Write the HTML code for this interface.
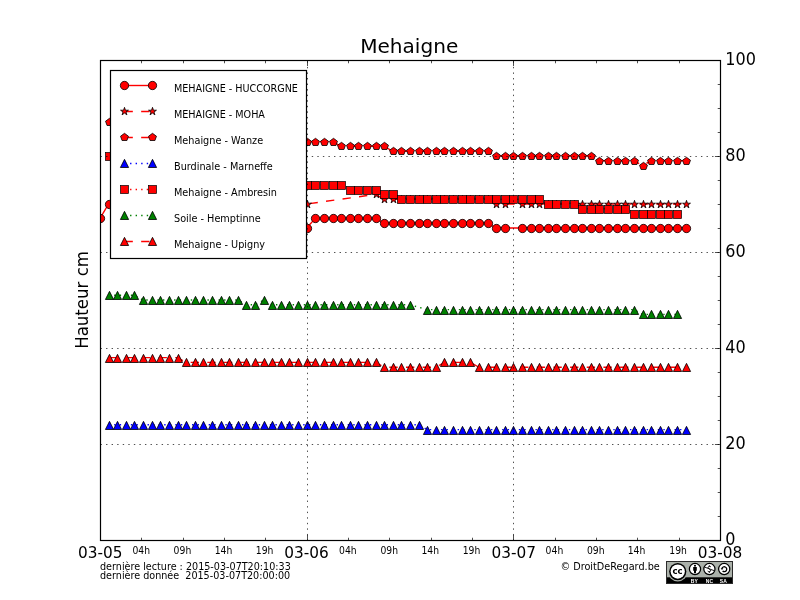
<!DOCTYPE html>
<html lang="fr"><head><meta charset="utf-8"><title>Mehaigne</title>
<style>html,body{margin:0;padding:0;background:#fff;width:800px;height:600px;overflow:hidden}</style></head>
<body>
<svg width="800" height="600" viewBox="0 0 800 600" style="display:block;position:absolute;left:0;top:0" font-family="'DejaVu Sans','Liberation Sans',sans-serif" fill="#000">
<rect width="800" height="600" fill="#fff"/>
<defs><clipPath id="ax"><rect x="100" y="60" width="621" height="481"/></clipPath></defs>
<g clip-path="url(#ax)">
<path d="M100.00 218.40 L108.61 204.00 L117.22 204.00 L125.83 204.00 L134.44 204.00 L143.06 204.00 L151.67 204.00 L160.28 204.00 L168.89 204.00 L177.50 213.60 L186.11 213.60 L194.72 213.60 L203.33 213.60 L211.94 213.60 L220.56 213.60 L229.17 213.60 L237.78 213.60 L246.39 213.60 L255.00 213.60 L263.61 213.60 L272.22 213.60 L280.83 213.60 L289.44 213.60 L298.06 213.60 L306.67 228.00 L315.28 218.40 L323.89 218.40 L332.50 218.40 L341.11 218.40 L349.72 218.40 L358.33 218.40 L366.94 218.40 L375.56 218.40 L384.17 223.20 L392.78 223.20 L401.39 223.20 L410.00 223.20 L418.61 223.20 L427.22 223.20 L435.83 223.20 L444.44 223.20 L453.06 223.20 L461.67 223.20 L470.28 223.20 L478.89 223.20 L487.50 223.20 L496.11 228.00 L504.72 228.00 L521.94 228.00 L530.56 228.00 L539.17 228.00 L547.78 228.00 L556.39 228.00 L565.00 228.00 L573.61 228.00 L582.22 228.00 L590.83 228.00 L599.44 228.00 L608.06 228.00 L616.67 228.00 L625.28 228.00 L633.89 228.00 L642.50 228.00 L651.11 228.00 L659.72 228.00 L668.33 228.00 L676.94 228.00 L685.56 228.00" fill="none" stroke="#ff0000" stroke-width="1.389"/>
<circle cx="100.5" cy="218.5" r="4.17" fill="#ff0000" stroke="#000" stroke-width="0.800"/>
<circle cx="109.5" cy="204.5" r="4.17" fill="#ff0000" stroke="#000" stroke-width="0.800"/>
<circle cx="117.5" cy="204.5" r="4.17" fill="#ff0000" stroke="#000" stroke-width="0.800"/>
<circle cx="126.5" cy="204.5" r="4.17" fill="#ff0000" stroke="#000" stroke-width="0.800"/>
<circle cx="134.5" cy="204.5" r="4.17" fill="#ff0000" stroke="#000" stroke-width="0.800"/>
<circle cx="143.5" cy="204.5" r="4.17" fill="#ff0000" stroke="#000" stroke-width="0.800"/>
<circle cx="152.5" cy="204.5" r="4.17" fill="#ff0000" stroke="#000" stroke-width="0.800"/>
<circle cx="160.5" cy="204.5" r="4.17" fill="#ff0000" stroke="#000" stroke-width="0.800"/>
<circle cx="169.5" cy="204.5" r="4.17" fill="#ff0000" stroke="#000" stroke-width="0.800"/>
<circle cx="178.5" cy="214.5" r="4.17" fill="#ff0000" stroke="#000" stroke-width="0.800"/>
<circle cx="186.5" cy="214.5" r="4.17" fill="#ff0000" stroke="#000" stroke-width="0.800"/>
<circle cx="195.5" cy="214.5" r="4.17" fill="#ff0000" stroke="#000" stroke-width="0.800"/>
<circle cx="203.5" cy="214.5" r="4.17" fill="#ff0000" stroke="#000" stroke-width="0.800"/>
<circle cx="212.5" cy="214.5" r="4.17" fill="#ff0000" stroke="#000" stroke-width="0.800"/>
<circle cx="221.5" cy="214.5" r="4.17" fill="#ff0000" stroke="#000" stroke-width="0.800"/>
<circle cx="229.5" cy="214.5" r="4.17" fill="#ff0000" stroke="#000" stroke-width="0.800"/>
<circle cx="238.5" cy="214.5" r="4.17" fill="#ff0000" stroke="#000" stroke-width="0.800"/>
<circle cx="246.5" cy="214.5" r="4.17" fill="#ff0000" stroke="#000" stroke-width="0.800"/>
<circle cx="255.5" cy="214.5" r="4.17" fill="#ff0000" stroke="#000" stroke-width="0.800"/>
<circle cx="264.5" cy="214.5" r="4.17" fill="#ff0000" stroke="#000" stroke-width="0.800"/>
<circle cx="272.5" cy="214.5" r="4.17" fill="#ff0000" stroke="#000" stroke-width="0.800"/>
<circle cx="281.5" cy="214.5" r="4.17" fill="#ff0000" stroke="#000" stroke-width="0.800"/>
<circle cx="289.5" cy="214.5" r="4.17" fill="#ff0000" stroke="#000" stroke-width="0.800"/>
<circle cx="298.5" cy="214.5" r="4.17" fill="#ff0000" stroke="#000" stroke-width="0.800"/>
<circle cx="307.5" cy="228.5" r="4.17" fill="#ff0000" stroke="#000" stroke-width="0.800"/>
<circle cx="315.5" cy="218.5" r="4.17" fill="#ff0000" stroke="#000" stroke-width="0.800"/>
<circle cx="324.5" cy="218.5" r="4.17" fill="#ff0000" stroke="#000" stroke-width="0.800"/>
<circle cx="333.5" cy="218.5" r="4.17" fill="#ff0000" stroke="#000" stroke-width="0.800"/>
<circle cx="341.5" cy="218.5" r="4.17" fill="#ff0000" stroke="#000" stroke-width="0.800"/>
<circle cx="350.5" cy="218.5" r="4.17" fill="#ff0000" stroke="#000" stroke-width="0.800"/>
<circle cx="358.5" cy="218.5" r="4.17" fill="#ff0000" stroke="#000" stroke-width="0.800"/>
<circle cx="367.5" cy="218.5" r="4.17" fill="#ff0000" stroke="#000" stroke-width="0.800"/>
<circle cx="376.5" cy="218.5" r="4.17" fill="#ff0000" stroke="#000" stroke-width="0.800"/>
<circle cx="384.5" cy="223.5" r="4.17" fill="#ff0000" stroke="#000" stroke-width="0.800"/>
<circle cx="393.5" cy="223.5" r="4.17" fill="#ff0000" stroke="#000" stroke-width="0.800"/>
<circle cx="401.5" cy="223.5" r="4.17" fill="#ff0000" stroke="#000" stroke-width="0.800"/>
<circle cx="410.5" cy="223.5" r="4.17" fill="#ff0000" stroke="#000" stroke-width="0.800"/>
<circle cx="419.5" cy="223.5" r="4.17" fill="#ff0000" stroke="#000" stroke-width="0.800"/>
<circle cx="427.5" cy="223.5" r="4.17" fill="#ff0000" stroke="#000" stroke-width="0.800"/>
<circle cx="436.5" cy="223.5" r="4.17" fill="#ff0000" stroke="#000" stroke-width="0.800"/>
<circle cx="444.5" cy="223.5" r="4.17" fill="#ff0000" stroke="#000" stroke-width="0.800"/>
<circle cx="453.5" cy="223.5" r="4.17" fill="#ff0000" stroke="#000" stroke-width="0.800"/>
<circle cx="462.5" cy="223.5" r="4.17" fill="#ff0000" stroke="#000" stroke-width="0.800"/>
<circle cx="470.5" cy="223.5" r="4.17" fill="#ff0000" stroke="#000" stroke-width="0.800"/>
<circle cx="479.5" cy="223.5" r="4.17" fill="#ff0000" stroke="#000" stroke-width="0.800"/>
<circle cx="488.5" cy="223.5" r="4.17" fill="#ff0000" stroke="#000" stroke-width="0.800"/>
<circle cx="496.5" cy="228.5" r="4.17" fill="#ff0000" stroke="#000" stroke-width="0.800"/>
<circle cx="505.5" cy="228.5" r="4.17" fill="#ff0000" stroke="#000" stroke-width="0.800"/>
<circle cx="522.5" cy="228.5" r="4.17" fill="#ff0000" stroke="#000" stroke-width="0.800"/>
<circle cx="531.5" cy="228.5" r="4.17" fill="#ff0000" stroke="#000" stroke-width="0.800"/>
<circle cx="539.5" cy="228.5" r="4.17" fill="#ff0000" stroke="#000" stroke-width="0.800"/>
<circle cx="548.5" cy="228.5" r="4.17" fill="#ff0000" stroke="#000" stroke-width="0.800"/>
<circle cx="556.5" cy="228.5" r="4.17" fill="#ff0000" stroke="#000" stroke-width="0.800"/>
<circle cx="565.5" cy="228.5" r="4.17" fill="#ff0000" stroke="#000" stroke-width="0.800"/>
<circle cx="574.5" cy="228.5" r="4.17" fill="#ff0000" stroke="#000" stroke-width="0.800"/>
<circle cx="582.5" cy="228.5" r="4.17" fill="#ff0000" stroke="#000" stroke-width="0.800"/>
<circle cx="591.5" cy="228.5" r="4.17" fill="#ff0000" stroke="#000" stroke-width="0.800"/>
<circle cx="599.5" cy="228.5" r="4.17" fill="#ff0000" stroke="#000" stroke-width="0.800"/>
<circle cx="608.5" cy="228.5" r="4.17" fill="#ff0000" stroke="#000" stroke-width="0.800"/>
<circle cx="617.5" cy="228.5" r="4.17" fill="#ff0000" stroke="#000" stroke-width="0.800"/>
<circle cx="625.5" cy="228.5" r="4.17" fill="#ff0000" stroke="#000" stroke-width="0.800"/>
<circle cx="634.5" cy="228.5" r="4.17" fill="#ff0000" stroke="#000" stroke-width="0.800"/>
<circle cx="643.5" cy="228.5" r="4.17" fill="#ff0000" stroke="#000" stroke-width="0.800"/>
<circle cx="651.5" cy="228.5" r="4.17" fill="#ff0000" stroke="#000" stroke-width="0.800"/>
<circle cx="660.5" cy="228.5" r="4.17" fill="#ff0000" stroke="#000" stroke-width="0.800"/>
<circle cx="668.5" cy="228.5" r="4.17" fill="#ff0000" stroke="#000" stroke-width="0.800"/>
<circle cx="677.5" cy="228.5" r="4.17" fill="#ff0000" stroke="#000" stroke-width="0.800"/>
<circle cx="686.5" cy="228.5" r="4.17" fill="#ff0000" stroke="#000" stroke-width="0.800"/>
<path d="M306.67 204.00 L375.56 194.40 L384.17 199.20 L392.78 199.20 L401.39 199.20 L410.00 199.20 L418.61 199.20 L427.22 199.20 L435.83 199.20 L444.44 199.20 L453.06 199.20 L461.67 199.20 L470.28 199.20 L478.89 199.20 L487.50 199.20 L496.11 204.00 L504.72 204.00 L521.94 204.00 L530.56 204.00 L539.17 204.00 L547.78 204.00 L556.39 204.00 L565.00 204.00 L573.61 204.00 L582.22 204.00 L590.83 204.00 L599.44 204.00 L608.06 204.00 L616.67 204.00 L625.28 204.00 L633.89 204.00 L642.50 204.00 L651.11 204.00 L659.72 204.00 L668.33 204.00 L676.94 204.00 L685.56 204.00" fill="none" stroke="#ff0000" stroke-width="1.389" stroke-dasharray="8.33 8.33" stroke-dashoffset="-2.90"/>
<polygon points="307.50,200.33 308.44,203.21 311.46,203.21 309.01,204.99 309.95,207.87 307.50,206.09 305.05,207.87 305.99,204.99 303.54,203.21 306.56,203.21" fill="#ff0000" stroke="#000" stroke-width="0.800"/>
<polygon points="376.50,190.33 377.44,193.21 380.46,193.21 378.01,194.99 378.95,197.87 376.50,196.09 374.05,197.87 374.99,194.99 372.54,193.21 375.56,193.21" fill="#ff0000" stroke="#000" stroke-width="0.800"/>
<polygon points="384.50,195.33 385.44,198.21 388.46,198.21 386.01,199.99 386.95,202.87 384.50,201.09 382.05,202.87 382.99,199.99 380.54,198.21 383.56,198.21" fill="#ff0000" stroke="#000" stroke-width="0.800"/>
<polygon points="393.50,195.33 394.44,198.21 397.46,198.21 395.01,199.99 395.95,202.87 393.50,201.09 391.05,202.87 391.99,199.99 389.54,198.21 392.56,198.21" fill="#ff0000" stroke="#000" stroke-width="0.800"/>
<polygon points="401.50,195.33 402.44,198.21 405.46,198.21 403.01,199.99 403.95,202.87 401.50,201.09 399.05,202.87 399.99,199.99 397.54,198.21 400.56,198.21" fill="#ff0000" stroke="#000" stroke-width="0.800"/>
<polygon points="410.50,195.33 411.44,198.21 414.46,198.21 412.01,199.99 412.95,202.87 410.50,201.09 408.05,202.87 408.99,199.99 406.54,198.21 409.56,198.21" fill="#ff0000" stroke="#000" stroke-width="0.800"/>
<polygon points="419.50,195.33 420.44,198.21 423.46,198.21 421.01,199.99 421.95,202.87 419.50,201.09 417.05,202.87 417.99,199.99 415.54,198.21 418.56,198.21" fill="#ff0000" stroke="#000" stroke-width="0.800"/>
<polygon points="427.50,195.33 428.44,198.21 431.46,198.21 429.01,199.99 429.95,202.87 427.50,201.09 425.05,202.87 425.99,199.99 423.54,198.21 426.56,198.21" fill="#ff0000" stroke="#000" stroke-width="0.800"/>
<polygon points="436.50,195.33 437.44,198.21 440.46,198.21 438.01,199.99 438.95,202.87 436.50,201.09 434.05,202.87 434.99,199.99 432.54,198.21 435.56,198.21" fill="#ff0000" stroke="#000" stroke-width="0.800"/>
<polygon points="444.50,195.33 445.44,198.21 448.46,198.21 446.01,199.99 446.95,202.87 444.50,201.09 442.05,202.87 442.99,199.99 440.54,198.21 443.56,198.21" fill="#ff0000" stroke="#000" stroke-width="0.800"/>
<polygon points="453.50,195.33 454.44,198.21 457.46,198.21 455.01,199.99 455.95,202.87 453.50,201.09 451.05,202.87 451.99,199.99 449.54,198.21 452.56,198.21" fill="#ff0000" stroke="#000" stroke-width="0.800"/>
<polygon points="462.50,195.33 463.44,198.21 466.46,198.21 464.01,199.99 464.95,202.87 462.50,201.09 460.05,202.87 460.99,199.99 458.54,198.21 461.56,198.21" fill="#ff0000" stroke="#000" stroke-width="0.800"/>
<polygon points="470.50,195.33 471.44,198.21 474.46,198.21 472.01,199.99 472.95,202.87 470.50,201.09 468.05,202.87 468.99,199.99 466.54,198.21 469.56,198.21" fill="#ff0000" stroke="#000" stroke-width="0.800"/>
<polygon points="479.50,195.33 480.44,198.21 483.46,198.21 481.01,199.99 481.95,202.87 479.50,201.09 477.05,202.87 477.99,199.99 475.54,198.21 478.56,198.21" fill="#ff0000" stroke="#000" stroke-width="0.800"/>
<polygon points="488.50,195.33 489.44,198.21 492.46,198.21 490.01,199.99 490.95,202.87 488.50,201.09 486.05,202.87 486.99,199.99 484.54,198.21 487.56,198.21" fill="#ff0000" stroke="#000" stroke-width="0.800"/>
<polygon points="496.50,200.33 497.44,203.21 500.46,203.21 498.01,204.99 498.95,207.87 496.50,206.09 494.05,207.87 494.99,204.99 492.54,203.21 495.56,203.21" fill="#ff0000" stroke="#000" stroke-width="0.800"/>
<polygon points="505.50,200.33 506.44,203.21 509.46,203.21 507.01,204.99 507.95,207.87 505.50,206.09 503.05,207.87 503.99,204.99 501.54,203.21 504.56,203.21" fill="#ff0000" stroke="#000" stroke-width="0.800"/>
<polygon points="522.50,200.33 523.44,203.21 526.46,203.21 524.01,204.99 524.95,207.87 522.50,206.09 520.05,207.87 520.99,204.99 518.54,203.21 521.56,203.21" fill="#ff0000" stroke="#000" stroke-width="0.800"/>
<polygon points="531.50,200.33 532.44,203.21 535.46,203.21 533.01,204.99 533.95,207.87 531.50,206.09 529.05,207.87 529.99,204.99 527.54,203.21 530.56,203.21" fill="#ff0000" stroke="#000" stroke-width="0.800"/>
<polygon points="539.50,200.33 540.44,203.21 543.46,203.21 541.01,204.99 541.95,207.87 539.50,206.09 537.05,207.87 537.99,204.99 535.54,203.21 538.56,203.21" fill="#ff0000" stroke="#000" stroke-width="0.800"/>
<polygon points="548.50,200.33 549.44,203.21 552.46,203.21 550.01,204.99 550.95,207.87 548.50,206.09 546.05,207.87 546.99,204.99 544.54,203.21 547.56,203.21" fill="#ff0000" stroke="#000" stroke-width="0.800"/>
<polygon points="556.50,200.33 557.44,203.21 560.46,203.21 558.01,204.99 558.95,207.87 556.50,206.09 554.05,207.87 554.99,204.99 552.54,203.21 555.56,203.21" fill="#ff0000" stroke="#000" stroke-width="0.800"/>
<polygon points="565.50,200.33 566.44,203.21 569.46,203.21 567.01,204.99 567.95,207.87 565.50,206.09 563.05,207.87 563.99,204.99 561.54,203.21 564.56,203.21" fill="#ff0000" stroke="#000" stroke-width="0.800"/>
<polygon points="574.50,200.33 575.44,203.21 578.46,203.21 576.01,204.99 576.95,207.87 574.50,206.09 572.05,207.87 572.99,204.99 570.54,203.21 573.56,203.21" fill="#ff0000" stroke="#000" stroke-width="0.800"/>
<polygon points="582.50,200.33 583.44,203.21 586.46,203.21 584.01,204.99 584.95,207.87 582.50,206.09 580.05,207.87 580.99,204.99 578.54,203.21 581.56,203.21" fill="#ff0000" stroke="#000" stroke-width="0.800"/>
<polygon points="591.50,200.33 592.44,203.21 595.46,203.21 593.01,204.99 593.95,207.87 591.50,206.09 589.05,207.87 589.99,204.99 587.54,203.21 590.56,203.21" fill="#ff0000" stroke="#000" stroke-width="0.800"/>
<polygon points="599.50,200.33 600.44,203.21 603.46,203.21 601.01,204.99 601.95,207.87 599.50,206.09 597.05,207.87 597.99,204.99 595.54,203.21 598.56,203.21" fill="#ff0000" stroke="#000" stroke-width="0.800"/>
<polygon points="608.50,200.33 609.44,203.21 612.46,203.21 610.01,204.99 610.95,207.87 608.50,206.09 606.05,207.87 606.99,204.99 604.54,203.21 607.56,203.21" fill="#ff0000" stroke="#000" stroke-width="0.800"/>
<polygon points="617.50,200.33 618.44,203.21 621.46,203.21 619.01,204.99 619.95,207.87 617.50,206.09 615.05,207.87 615.99,204.99 613.54,203.21 616.56,203.21" fill="#ff0000" stroke="#000" stroke-width="0.800"/>
<polygon points="625.50,200.33 626.44,203.21 629.46,203.21 627.01,204.99 627.95,207.87 625.50,206.09 623.05,207.87 623.99,204.99 621.54,203.21 624.56,203.21" fill="#ff0000" stroke="#000" stroke-width="0.800"/>
<polygon points="634.50,200.33 635.44,203.21 638.46,203.21 636.01,204.99 636.95,207.87 634.50,206.09 632.05,207.87 632.99,204.99 630.54,203.21 633.56,203.21" fill="#ff0000" stroke="#000" stroke-width="0.800"/>
<polygon points="643.50,200.33 644.44,203.21 647.46,203.21 645.01,204.99 645.95,207.87 643.50,206.09 641.05,207.87 641.99,204.99 639.54,203.21 642.56,203.21" fill="#ff0000" stroke="#000" stroke-width="0.800"/>
<polygon points="651.50,200.33 652.44,203.21 655.46,203.21 653.01,204.99 653.95,207.87 651.50,206.09 649.05,207.87 649.99,204.99 647.54,203.21 650.56,203.21" fill="#ff0000" stroke="#000" stroke-width="0.800"/>
<polygon points="660.50,200.33 661.44,203.21 664.46,203.21 662.01,204.99 662.95,207.87 660.50,206.09 658.05,207.87 658.99,204.99 656.54,203.21 659.56,203.21" fill="#ff0000" stroke="#000" stroke-width="0.800"/>
<polygon points="668.50,200.33 669.44,203.21 672.46,203.21 670.01,204.99 670.95,207.87 668.50,206.09 666.05,207.87 666.99,204.99 664.54,203.21 667.56,203.21" fill="#ff0000" stroke="#000" stroke-width="0.800"/>
<polygon points="677.50,200.33 678.44,203.21 681.46,203.21 679.01,204.99 679.95,207.87 677.50,206.09 675.05,207.87 675.99,204.99 673.54,203.21 676.56,203.21" fill="#ff0000" stroke="#000" stroke-width="0.800"/>
<polygon points="686.50,200.33 687.44,203.21 690.46,203.21 688.01,204.99 688.95,207.87 686.50,206.09 684.05,207.87 684.99,204.99 682.54,203.21 685.56,203.21" fill="#ff0000" stroke="#000" stroke-width="0.800"/>
<path d="M108.61 122.40 L117.22 122.40 L125.83 122.40 L134.44 122.40 L143.06 122.40 L151.67 122.40 L160.28 122.40 L168.89 122.40 L177.50 122.40 L186.11 122.40 L194.72 122.40 L203.33 122.40 L211.94 122.40 L220.56 122.40 L229.17 122.40 L237.78 122.40 L246.39 122.40 L255.00 122.40 L263.61 122.40 L272.22 122.40 L280.83 122.40 L289.44 122.40 L298.06 122.40 L306.67 141.60 L315.28 141.60 L323.89 141.60 L332.50 141.60 L341.11 146.40 L349.72 146.40 L358.33 146.40 L366.94 146.40 L375.56 146.40 L384.17 146.40 L392.78 151.20 L401.39 151.20 L410.00 151.20 L418.61 151.20 L427.22 151.20 L435.83 151.20 L444.44 151.20 L453.06 151.20 L461.67 151.20 L470.28 151.20 L478.89 151.20 L487.50 151.20 L496.11 156.00 L504.72 156.00 L513.33 156.00 L521.94 156.00 L530.56 156.00 L539.17 156.00 L547.78 156.00 L556.39 156.00 L565.00 156.00 L573.61 156.00 L582.22 156.00 L590.83 156.00 L599.44 160.80 L608.06 160.80 L616.67 160.80 L625.28 160.80 L633.89 160.80 L642.50 165.60 L651.11 160.80 L659.72 160.80 L668.33 160.80 L676.94 160.80 L685.56 160.80" fill="none" stroke="#ff0000" stroke-width="1.389" stroke-dasharray="8.33 8.33" stroke-dashoffset="9.40"/>
<polygon points="109.50,118.33 113.46,121.21 111.95,125.50 107.05,125.50 105.54,121.21" fill="#ff0000" stroke="#000" stroke-width="0.800"/>
<polygon points="117.50,118.33 121.46,121.21 119.95,125.50 115.05,125.50 113.54,121.21" fill="#ff0000" stroke="#000" stroke-width="0.800"/>
<polygon points="126.50,118.33 130.46,121.21 128.95,125.50 124.05,125.50 122.54,121.21" fill="#ff0000" stroke="#000" stroke-width="0.800"/>
<polygon points="134.50,118.33 138.46,121.21 136.95,125.50 132.05,125.50 130.54,121.21" fill="#ff0000" stroke="#000" stroke-width="0.800"/>
<polygon points="143.50,118.33 147.46,121.21 145.95,125.50 141.05,125.50 139.54,121.21" fill="#ff0000" stroke="#000" stroke-width="0.800"/>
<polygon points="152.50,118.33 156.46,121.21 154.95,125.50 150.05,125.50 148.54,121.21" fill="#ff0000" stroke="#000" stroke-width="0.800"/>
<polygon points="160.50,118.33 164.46,121.21 162.95,125.50 158.05,125.50 156.54,121.21" fill="#ff0000" stroke="#000" stroke-width="0.800"/>
<polygon points="169.50,118.33 173.46,121.21 171.95,125.50 167.05,125.50 165.54,121.21" fill="#ff0000" stroke="#000" stroke-width="0.800"/>
<polygon points="178.50,118.33 182.46,121.21 180.95,125.50 176.05,125.50 174.54,121.21" fill="#ff0000" stroke="#000" stroke-width="0.800"/>
<polygon points="186.50,118.33 190.46,121.21 188.95,125.50 184.05,125.50 182.54,121.21" fill="#ff0000" stroke="#000" stroke-width="0.800"/>
<polygon points="195.50,118.33 199.46,121.21 197.95,125.50 193.05,125.50 191.54,121.21" fill="#ff0000" stroke="#000" stroke-width="0.800"/>
<polygon points="203.50,118.33 207.46,121.21 205.95,125.50 201.05,125.50 199.54,121.21" fill="#ff0000" stroke="#000" stroke-width="0.800"/>
<polygon points="212.50,118.33 216.46,121.21 214.95,125.50 210.05,125.50 208.54,121.21" fill="#ff0000" stroke="#000" stroke-width="0.800"/>
<polygon points="221.50,118.33 225.46,121.21 223.95,125.50 219.05,125.50 217.54,121.21" fill="#ff0000" stroke="#000" stroke-width="0.800"/>
<polygon points="229.50,118.33 233.46,121.21 231.95,125.50 227.05,125.50 225.54,121.21" fill="#ff0000" stroke="#000" stroke-width="0.800"/>
<polygon points="238.50,118.33 242.46,121.21 240.95,125.50 236.05,125.50 234.54,121.21" fill="#ff0000" stroke="#000" stroke-width="0.800"/>
<polygon points="246.50,118.33 250.46,121.21 248.95,125.50 244.05,125.50 242.54,121.21" fill="#ff0000" stroke="#000" stroke-width="0.800"/>
<polygon points="255.50,118.33 259.46,121.21 257.95,125.50 253.05,125.50 251.54,121.21" fill="#ff0000" stroke="#000" stroke-width="0.800"/>
<polygon points="264.50,118.33 268.46,121.21 266.95,125.50 262.05,125.50 260.54,121.21" fill="#ff0000" stroke="#000" stroke-width="0.800"/>
<polygon points="272.50,118.33 276.46,121.21 274.95,125.50 270.05,125.50 268.54,121.21" fill="#ff0000" stroke="#000" stroke-width="0.800"/>
<polygon points="281.50,118.33 285.46,121.21 283.95,125.50 279.05,125.50 277.54,121.21" fill="#ff0000" stroke="#000" stroke-width="0.800"/>
<polygon points="289.50,118.33 293.46,121.21 291.95,125.50 287.05,125.50 285.54,121.21" fill="#ff0000" stroke="#000" stroke-width="0.800"/>
<polygon points="298.50,118.33 302.46,121.21 300.95,125.50 296.05,125.50 294.54,121.21" fill="#ff0000" stroke="#000" stroke-width="0.800"/>
<polygon points="307.50,138.33 311.46,141.21 309.95,145.50 305.05,145.50 303.54,141.21" fill="#ff0000" stroke="#000" stroke-width="0.800"/>
<polygon points="315.50,138.33 319.46,141.21 317.95,145.50 313.05,145.50 311.54,141.21" fill="#ff0000" stroke="#000" stroke-width="0.800"/>
<polygon points="324.50,138.33 328.46,141.21 326.95,145.50 322.05,145.50 320.54,141.21" fill="#ff0000" stroke="#000" stroke-width="0.800"/>
<polygon points="333.50,138.33 337.46,141.21 335.95,145.50 331.05,145.50 329.54,141.21" fill="#ff0000" stroke="#000" stroke-width="0.800"/>
<polygon points="341.50,142.33 345.46,145.21 343.95,149.50 339.05,149.50 337.54,145.21" fill="#ff0000" stroke="#000" stroke-width="0.800"/>
<polygon points="350.50,142.33 354.46,145.21 352.95,149.50 348.05,149.50 346.54,145.21" fill="#ff0000" stroke="#000" stroke-width="0.800"/>
<polygon points="358.50,142.33 362.46,145.21 360.95,149.50 356.05,149.50 354.54,145.21" fill="#ff0000" stroke="#000" stroke-width="0.800"/>
<polygon points="367.50,142.33 371.46,145.21 369.95,149.50 365.05,149.50 363.54,145.21" fill="#ff0000" stroke="#000" stroke-width="0.800"/>
<polygon points="376.50,142.33 380.46,145.21 378.95,149.50 374.05,149.50 372.54,145.21" fill="#ff0000" stroke="#000" stroke-width="0.800"/>
<polygon points="384.50,142.33 388.46,145.21 386.95,149.50 382.05,149.50 380.54,145.21" fill="#ff0000" stroke="#000" stroke-width="0.800"/>
<polygon points="393.50,147.33 397.46,150.21 395.95,154.50 391.05,154.50 389.54,150.21" fill="#ff0000" stroke="#000" stroke-width="0.800"/>
<polygon points="401.50,147.33 405.46,150.21 403.95,154.50 399.05,154.50 397.54,150.21" fill="#ff0000" stroke="#000" stroke-width="0.800"/>
<polygon points="410.50,147.33 414.46,150.21 412.95,154.50 408.05,154.50 406.54,150.21" fill="#ff0000" stroke="#000" stroke-width="0.800"/>
<polygon points="419.50,147.33 423.46,150.21 421.95,154.50 417.05,154.50 415.54,150.21" fill="#ff0000" stroke="#000" stroke-width="0.800"/>
<polygon points="427.50,147.33 431.46,150.21 429.95,154.50 425.05,154.50 423.54,150.21" fill="#ff0000" stroke="#000" stroke-width="0.800"/>
<polygon points="436.50,147.33 440.46,150.21 438.95,154.50 434.05,154.50 432.54,150.21" fill="#ff0000" stroke="#000" stroke-width="0.800"/>
<polygon points="444.50,147.33 448.46,150.21 446.95,154.50 442.05,154.50 440.54,150.21" fill="#ff0000" stroke="#000" stroke-width="0.800"/>
<polygon points="453.50,147.33 457.46,150.21 455.95,154.50 451.05,154.50 449.54,150.21" fill="#ff0000" stroke="#000" stroke-width="0.800"/>
<polygon points="462.50,147.33 466.46,150.21 464.95,154.50 460.05,154.50 458.54,150.21" fill="#ff0000" stroke="#000" stroke-width="0.800"/>
<polygon points="470.50,147.33 474.46,150.21 472.95,154.50 468.05,154.50 466.54,150.21" fill="#ff0000" stroke="#000" stroke-width="0.800"/>
<polygon points="479.50,147.33 483.46,150.21 481.95,154.50 477.05,154.50 475.54,150.21" fill="#ff0000" stroke="#000" stroke-width="0.800"/>
<polygon points="488.50,147.33 492.46,150.21 490.95,154.50 486.05,154.50 484.54,150.21" fill="#ff0000" stroke="#000" stroke-width="0.800"/>
<polygon points="496.50,152.33 500.46,155.21 498.95,159.50 494.05,159.50 492.54,155.21" fill="#ff0000" stroke="#000" stroke-width="0.800"/>
<polygon points="505.50,152.33 509.46,155.21 507.95,159.50 503.05,159.50 501.54,155.21" fill="#ff0000" stroke="#000" stroke-width="0.800"/>
<polygon points="513.50,152.33 517.46,155.21 515.95,159.50 511.05,159.50 509.54,155.21" fill="#ff0000" stroke="#000" stroke-width="0.800"/>
<polygon points="522.50,152.33 526.46,155.21 524.95,159.50 520.05,159.50 518.54,155.21" fill="#ff0000" stroke="#000" stroke-width="0.800"/>
<polygon points="531.50,152.33 535.46,155.21 533.95,159.50 529.05,159.50 527.54,155.21" fill="#ff0000" stroke="#000" stroke-width="0.800"/>
<polygon points="539.50,152.33 543.46,155.21 541.95,159.50 537.05,159.50 535.54,155.21" fill="#ff0000" stroke="#000" stroke-width="0.800"/>
<polygon points="548.50,152.33 552.46,155.21 550.95,159.50 546.05,159.50 544.54,155.21" fill="#ff0000" stroke="#000" stroke-width="0.800"/>
<polygon points="556.50,152.33 560.46,155.21 558.95,159.50 554.05,159.50 552.54,155.21" fill="#ff0000" stroke="#000" stroke-width="0.800"/>
<polygon points="565.50,152.33 569.46,155.21 567.95,159.50 563.05,159.50 561.54,155.21" fill="#ff0000" stroke="#000" stroke-width="0.800"/>
<polygon points="574.50,152.33 578.46,155.21 576.95,159.50 572.05,159.50 570.54,155.21" fill="#ff0000" stroke="#000" stroke-width="0.800"/>
<polygon points="582.50,152.33 586.46,155.21 584.95,159.50 580.05,159.50 578.54,155.21" fill="#ff0000" stroke="#000" stroke-width="0.800"/>
<polygon points="591.50,152.33 595.46,155.21 593.95,159.50 589.05,159.50 587.54,155.21" fill="#ff0000" stroke="#000" stroke-width="0.800"/>
<polygon points="599.50,157.33 603.46,160.21 601.95,164.50 597.05,164.50 595.54,160.21" fill="#ff0000" stroke="#000" stroke-width="0.800"/>
<polygon points="608.50,157.33 612.46,160.21 610.95,164.50 606.05,164.50 604.54,160.21" fill="#ff0000" stroke="#000" stroke-width="0.800"/>
<polygon points="617.50,157.33 621.46,160.21 619.95,164.50 615.05,164.50 613.54,160.21" fill="#ff0000" stroke="#000" stroke-width="0.800"/>
<polygon points="625.50,157.33 629.46,160.21 627.95,164.50 623.05,164.50 621.54,160.21" fill="#ff0000" stroke="#000" stroke-width="0.800"/>
<polygon points="634.50,157.33 638.46,160.21 636.95,164.50 632.05,164.50 630.54,160.21" fill="#ff0000" stroke="#000" stroke-width="0.800"/>
<polygon points="643.50,162.33 647.46,165.21 645.95,169.50 641.05,169.50 639.54,165.21" fill="#ff0000" stroke="#000" stroke-width="0.800"/>
<polygon points="651.50,157.33 655.46,160.21 653.95,164.50 649.05,164.50 647.54,160.21" fill="#ff0000" stroke="#000" stroke-width="0.800"/>
<polygon points="660.50,157.33 664.46,160.21 662.95,164.50 658.05,164.50 656.54,160.21" fill="#ff0000" stroke="#000" stroke-width="0.800"/>
<polygon points="668.50,157.33 672.46,160.21 670.95,164.50 666.05,164.50 664.54,160.21" fill="#ff0000" stroke="#000" stroke-width="0.800"/>
<polygon points="677.50,157.33 681.46,160.21 679.95,164.50 675.05,164.50 673.54,160.21" fill="#ff0000" stroke="#000" stroke-width="0.800"/>
<polygon points="686.50,157.33 690.46,160.21 688.95,164.50 684.05,164.50 682.54,160.21" fill="#ff0000" stroke="#000" stroke-width="0.800"/>
<path d="M108.61 424.80 L117.22 424.80 L125.83 424.80 L134.44 424.80 L143.06 424.80 L151.67 424.80 L160.28 424.80 L168.89 424.80 L177.50 424.80 L186.11 424.80 L194.72 424.80 L203.33 424.80 L211.94 424.80 L220.56 424.80 L229.17 424.80 L237.78 424.80 L246.39 424.80 L255.00 424.80 L263.61 424.80 L272.22 424.80 L280.83 424.80 L289.44 424.80 L298.06 424.80 L306.67 424.80 L315.28 424.80 L323.89 424.80 L332.50 424.80 L341.11 424.80 L349.72 424.80 L358.33 424.80 L366.94 424.80 L375.56 424.80 L384.17 424.80 L392.78 424.80 L401.39 424.80 L410.00 424.80 L418.61 424.80 L427.22 429.60 L435.83 429.60 L444.44 429.60 L453.06 429.60 L461.67 429.60 L470.28 429.60 L478.89 429.60 L487.50 429.60 L496.11 429.60 L504.72 429.60 L513.33 429.60 L521.94 429.60 L530.56 429.60 L539.17 429.60 L547.78 429.60 L556.39 429.60 L565.00 429.60 L573.61 429.60 L582.22 429.60 L590.83 429.60 L599.44 429.60 L608.06 429.60 L616.67 429.60 L625.28 429.60 L633.89 429.60 L642.50 429.60 L651.11 429.60 L659.72 429.60 L668.33 429.60 L676.94 429.60 L685.56 429.60" fill="none" stroke="#0000ff" stroke-width="1.389" stroke-dasharray="1.39 4.17" stroke-dashoffset="0.00"/>
<polygon points="109.50,421.33 105.40,429.50 113.60,429.50" fill="#0000ff" stroke="#000" stroke-width="0.800"/>
<polygon points="117.50,421.33 113.40,429.50 121.60,429.50" fill="#0000ff" stroke="#000" stroke-width="0.800"/>
<polygon points="126.50,421.33 122.40,429.50 130.60,429.50" fill="#0000ff" stroke="#000" stroke-width="0.800"/>
<polygon points="134.50,421.33 130.40,429.50 138.60,429.50" fill="#0000ff" stroke="#000" stroke-width="0.800"/>
<polygon points="143.50,421.33 139.40,429.50 147.60,429.50" fill="#0000ff" stroke="#000" stroke-width="0.800"/>
<polygon points="152.50,421.33 148.40,429.50 156.60,429.50" fill="#0000ff" stroke="#000" stroke-width="0.800"/>
<polygon points="160.50,421.33 156.40,429.50 164.60,429.50" fill="#0000ff" stroke="#000" stroke-width="0.800"/>
<polygon points="169.50,421.33 165.40,429.50 173.60,429.50" fill="#0000ff" stroke="#000" stroke-width="0.800"/>
<polygon points="178.50,421.33 174.40,429.50 182.60,429.50" fill="#0000ff" stroke="#000" stroke-width="0.800"/>
<polygon points="186.50,421.33 182.40,429.50 190.60,429.50" fill="#0000ff" stroke="#000" stroke-width="0.800"/>
<polygon points="195.50,421.33 191.40,429.50 199.60,429.50" fill="#0000ff" stroke="#000" stroke-width="0.800"/>
<polygon points="203.50,421.33 199.40,429.50 207.60,429.50" fill="#0000ff" stroke="#000" stroke-width="0.800"/>
<polygon points="212.50,421.33 208.40,429.50 216.60,429.50" fill="#0000ff" stroke="#000" stroke-width="0.800"/>
<polygon points="221.50,421.33 217.40,429.50 225.60,429.50" fill="#0000ff" stroke="#000" stroke-width="0.800"/>
<polygon points="229.50,421.33 225.40,429.50 233.60,429.50" fill="#0000ff" stroke="#000" stroke-width="0.800"/>
<polygon points="238.50,421.33 234.40,429.50 242.60,429.50" fill="#0000ff" stroke="#000" stroke-width="0.800"/>
<polygon points="246.50,421.33 242.40,429.50 250.60,429.50" fill="#0000ff" stroke="#000" stroke-width="0.800"/>
<polygon points="255.50,421.33 251.40,429.50 259.60,429.50" fill="#0000ff" stroke="#000" stroke-width="0.800"/>
<polygon points="264.50,421.33 260.40,429.50 268.60,429.50" fill="#0000ff" stroke="#000" stroke-width="0.800"/>
<polygon points="272.50,421.33 268.40,429.50 276.60,429.50" fill="#0000ff" stroke="#000" stroke-width="0.800"/>
<polygon points="281.50,421.33 277.40,429.50 285.60,429.50" fill="#0000ff" stroke="#000" stroke-width="0.800"/>
<polygon points="289.50,421.33 285.40,429.50 293.60,429.50" fill="#0000ff" stroke="#000" stroke-width="0.800"/>
<polygon points="298.50,421.33 294.40,429.50 302.60,429.50" fill="#0000ff" stroke="#000" stroke-width="0.800"/>
<polygon points="307.50,421.33 303.40,429.50 311.60,429.50" fill="#0000ff" stroke="#000" stroke-width="0.800"/>
<polygon points="315.50,421.33 311.40,429.50 319.60,429.50" fill="#0000ff" stroke="#000" stroke-width="0.800"/>
<polygon points="324.50,421.33 320.40,429.50 328.60,429.50" fill="#0000ff" stroke="#000" stroke-width="0.800"/>
<polygon points="333.50,421.33 329.40,429.50 337.60,429.50" fill="#0000ff" stroke="#000" stroke-width="0.800"/>
<polygon points="341.50,421.33 337.40,429.50 345.60,429.50" fill="#0000ff" stroke="#000" stroke-width="0.800"/>
<polygon points="350.50,421.33 346.40,429.50 354.60,429.50" fill="#0000ff" stroke="#000" stroke-width="0.800"/>
<polygon points="358.50,421.33 354.40,429.50 362.60,429.50" fill="#0000ff" stroke="#000" stroke-width="0.800"/>
<polygon points="367.50,421.33 363.40,429.50 371.60,429.50" fill="#0000ff" stroke="#000" stroke-width="0.800"/>
<polygon points="376.50,421.33 372.40,429.50 380.60,429.50" fill="#0000ff" stroke="#000" stroke-width="0.800"/>
<polygon points="384.50,421.33 380.40,429.50 388.60,429.50" fill="#0000ff" stroke="#000" stroke-width="0.800"/>
<polygon points="393.50,421.33 389.40,429.50 397.60,429.50" fill="#0000ff" stroke="#000" stroke-width="0.800"/>
<polygon points="401.50,421.33 397.40,429.50 405.60,429.50" fill="#0000ff" stroke="#000" stroke-width="0.800"/>
<polygon points="410.50,421.33 406.40,429.50 414.60,429.50" fill="#0000ff" stroke="#000" stroke-width="0.800"/>
<polygon points="419.50,421.33 415.40,429.50 423.60,429.50" fill="#0000ff" stroke="#000" stroke-width="0.800"/>
<polygon points="427.50,426.33 423.40,434.50 431.60,434.50" fill="#0000ff" stroke="#000" stroke-width="0.800"/>
<polygon points="436.50,426.33 432.40,434.50 440.60,434.50" fill="#0000ff" stroke="#000" stroke-width="0.800"/>
<polygon points="444.50,426.33 440.40,434.50 448.60,434.50" fill="#0000ff" stroke="#000" stroke-width="0.800"/>
<polygon points="453.50,426.33 449.40,434.50 457.60,434.50" fill="#0000ff" stroke="#000" stroke-width="0.800"/>
<polygon points="462.50,426.33 458.40,434.50 466.60,434.50" fill="#0000ff" stroke="#000" stroke-width="0.800"/>
<polygon points="470.50,426.33 466.40,434.50 474.60,434.50" fill="#0000ff" stroke="#000" stroke-width="0.800"/>
<polygon points="479.50,426.33 475.40,434.50 483.60,434.50" fill="#0000ff" stroke="#000" stroke-width="0.800"/>
<polygon points="488.50,426.33 484.40,434.50 492.60,434.50" fill="#0000ff" stroke="#000" stroke-width="0.800"/>
<polygon points="496.50,426.33 492.40,434.50 500.60,434.50" fill="#0000ff" stroke="#000" stroke-width="0.800"/>
<polygon points="505.50,426.33 501.40,434.50 509.60,434.50" fill="#0000ff" stroke="#000" stroke-width="0.800"/>
<polygon points="513.50,426.33 509.40,434.50 517.60,434.50" fill="#0000ff" stroke="#000" stroke-width="0.800"/>
<polygon points="522.50,426.33 518.40,434.50 526.60,434.50" fill="#0000ff" stroke="#000" stroke-width="0.800"/>
<polygon points="531.50,426.33 527.40,434.50 535.60,434.50" fill="#0000ff" stroke="#000" stroke-width="0.800"/>
<polygon points="539.50,426.33 535.40,434.50 543.60,434.50" fill="#0000ff" stroke="#000" stroke-width="0.800"/>
<polygon points="548.50,426.33 544.40,434.50 552.60,434.50" fill="#0000ff" stroke="#000" stroke-width="0.800"/>
<polygon points="556.50,426.33 552.40,434.50 560.60,434.50" fill="#0000ff" stroke="#000" stroke-width="0.800"/>
<polygon points="565.50,426.33 561.40,434.50 569.60,434.50" fill="#0000ff" stroke="#000" stroke-width="0.800"/>
<polygon points="574.50,426.33 570.40,434.50 578.60,434.50" fill="#0000ff" stroke="#000" stroke-width="0.800"/>
<polygon points="582.50,426.33 578.40,434.50 586.60,434.50" fill="#0000ff" stroke="#000" stroke-width="0.800"/>
<polygon points="591.50,426.33 587.40,434.50 595.60,434.50" fill="#0000ff" stroke="#000" stroke-width="0.800"/>
<polygon points="599.50,426.33 595.40,434.50 603.60,434.50" fill="#0000ff" stroke="#000" stroke-width="0.800"/>
<polygon points="608.50,426.33 604.40,434.50 612.60,434.50" fill="#0000ff" stroke="#000" stroke-width="0.800"/>
<polygon points="617.50,426.33 613.40,434.50 621.60,434.50" fill="#0000ff" stroke="#000" stroke-width="0.800"/>
<polygon points="625.50,426.33 621.40,434.50 629.60,434.50" fill="#0000ff" stroke="#000" stroke-width="0.800"/>
<polygon points="634.50,426.33 630.40,434.50 638.60,434.50" fill="#0000ff" stroke="#000" stroke-width="0.800"/>
<polygon points="643.50,426.33 639.40,434.50 647.60,434.50" fill="#0000ff" stroke="#000" stroke-width="0.800"/>
<polygon points="651.50,426.33 647.40,434.50 655.60,434.50" fill="#0000ff" stroke="#000" stroke-width="0.800"/>
<polygon points="660.50,426.33 656.40,434.50 664.60,434.50" fill="#0000ff" stroke="#000" stroke-width="0.800"/>
<polygon points="668.50,426.33 664.40,434.50 672.60,434.50" fill="#0000ff" stroke="#000" stroke-width="0.800"/>
<polygon points="677.50,426.33 673.40,434.50 681.60,434.50" fill="#0000ff" stroke="#000" stroke-width="0.800"/>
<polygon points="686.50,426.33 682.40,434.50 690.60,434.50" fill="#0000ff" stroke="#000" stroke-width="0.800"/>
<path d="M108.61 156.00 L117.22 156.00 L125.83 156.00 L134.44 156.00 L143.06 156.00 L151.67 156.00 L160.28 156.00 L168.89 156.00 L177.50 156.00 L186.11 156.00 L194.72 156.00 L203.33 156.00 L211.94 156.00 L220.56 156.00 L229.17 156.00 L237.78 156.00 L246.39 156.00 L255.00 156.00 L263.61 156.00 L272.22 156.00 L280.83 156.00 L289.44 156.00 L298.06 156.00 L306.67 184.80 L315.28 184.80 L323.89 184.80 L332.50 184.80 L341.11 184.80 L349.72 189.60 L358.33 189.60 L366.94 189.60 L375.56 189.60 L384.17 194.40 L392.78 194.40 L401.39 199.20 L410.00 199.20 L418.61 199.20 L427.22 199.20 L435.83 199.20 L444.44 199.20 L453.06 199.20 L461.67 199.20 L470.28 199.20 L478.89 199.20 L487.50 199.20 L496.11 199.20 L504.72 199.20 L513.33 199.20 L521.94 199.20 L530.56 199.20 L539.17 199.20 L547.78 204.00 L556.39 204.00 L565.00 204.00 L573.61 204.00 L582.22 208.80 L590.83 208.80 L599.44 208.80 L608.06 208.80 L616.67 208.80 L625.28 208.80 L633.89 213.60 L642.50 213.60 L651.11 213.60 L659.72 213.60 L668.33 213.60 L676.94 213.60" fill="none" stroke="#ff0000" stroke-width="1.389" stroke-dasharray="1.39 4.17" stroke-dashoffset="0.00"/>
<rect x="105.50" y="152.50" width="8.00" height="8.00" fill="#ff0000" stroke="#000" stroke-width="0.7"/>
<rect x="113.50" y="152.50" width="8.00" height="8.00" fill="#ff0000" stroke="#000" stroke-width="0.7"/>
<rect x="122.50" y="152.50" width="8.00" height="8.00" fill="#ff0000" stroke="#000" stroke-width="0.7"/>
<rect x="130.50" y="152.50" width="8.00" height="8.00" fill="#ff0000" stroke="#000" stroke-width="0.7"/>
<rect x="139.50" y="152.50" width="8.00" height="8.00" fill="#ff0000" stroke="#000" stroke-width="0.7"/>
<rect x="148.50" y="152.50" width="8.00" height="8.00" fill="#ff0000" stroke="#000" stroke-width="0.7"/>
<rect x="156.50" y="152.50" width="8.00" height="8.00" fill="#ff0000" stroke="#000" stroke-width="0.7"/>
<rect x="165.50" y="152.50" width="8.00" height="8.00" fill="#ff0000" stroke="#000" stroke-width="0.7"/>
<rect x="174.50" y="152.50" width="8.00" height="8.00" fill="#ff0000" stroke="#000" stroke-width="0.7"/>
<rect x="182.50" y="152.50" width="8.00" height="8.00" fill="#ff0000" stroke="#000" stroke-width="0.7"/>
<rect x="191.50" y="152.50" width="8.00" height="8.00" fill="#ff0000" stroke="#000" stroke-width="0.7"/>
<rect x="199.50" y="152.50" width="8.00" height="8.00" fill="#ff0000" stroke="#000" stroke-width="0.7"/>
<rect x="208.50" y="152.50" width="8.00" height="8.00" fill="#ff0000" stroke="#000" stroke-width="0.7"/>
<rect x="217.50" y="152.50" width="8.00" height="8.00" fill="#ff0000" stroke="#000" stroke-width="0.7"/>
<rect x="225.50" y="152.50" width="8.00" height="8.00" fill="#ff0000" stroke="#000" stroke-width="0.7"/>
<rect x="234.50" y="152.50" width="8.00" height="8.00" fill="#ff0000" stroke="#000" stroke-width="0.7"/>
<rect x="242.50" y="152.50" width="8.00" height="8.00" fill="#ff0000" stroke="#000" stroke-width="0.7"/>
<rect x="251.50" y="152.50" width="8.00" height="8.00" fill="#ff0000" stroke="#000" stroke-width="0.7"/>
<rect x="260.50" y="152.50" width="8.00" height="8.00" fill="#ff0000" stroke="#000" stroke-width="0.7"/>
<rect x="268.50" y="152.50" width="8.00" height="8.00" fill="#ff0000" stroke="#000" stroke-width="0.7"/>
<rect x="277.50" y="152.50" width="8.00" height="8.00" fill="#ff0000" stroke="#000" stroke-width="0.7"/>
<rect x="285.50" y="152.50" width="8.00" height="8.00" fill="#ff0000" stroke="#000" stroke-width="0.7"/>
<rect x="294.50" y="152.50" width="8.00" height="8.00" fill="#ff0000" stroke="#000" stroke-width="0.7"/>
<rect x="303.50" y="181.50" width="8.00" height="8.00" fill="#ff0000" stroke="#000" stroke-width="0.7"/>
<rect x="311.50" y="181.50" width="8.00" height="8.00" fill="#ff0000" stroke="#000" stroke-width="0.7"/>
<rect x="320.50" y="181.50" width="8.00" height="8.00" fill="#ff0000" stroke="#000" stroke-width="0.7"/>
<rect x="329.50" y="181.50" width="8.00" height="8.00" fill="#ff0000" stroke="#000" stroke-width="0.7"/>
<rect x="337.50" y="181.50" width="8.00" height="8.00" fill="#ff0000" stroke="#000" stroke-width="0.7"/>
<rect x="346.50" y="186.50" width="8.00" height="8.00" fill="#ff0000" stroke="#000" stroke-width="0.7"/>
<rect x="354.50" y="186.50" width="8.00" height="8.00" fill="#ff0000" stroke="#000" stroke-width="0.7"/>
<rect x="363.50" y="186.50" width="8.00" height="8.00" fill="#ff0000" stroke="#000" stroke-width="0.7"/>
<rect x="372.50" y="186.50" width="8.00" height="8.00" fill="#ff0000" stroke="#000" stroke-width="0.7"/>
<rect x="380.50" y="190.50" width="8.00" height="8.00" fill="#ff0000" stroke="#000" stroke-width="0.7"/>
<rect x="389.50" y="190.50" width="8.00" height="8.00" fill="#ff0000" stroke="#000" stroke-width="0.7"/>
<rect x="397.50" y="195.50" width="8.00" height="8.00" fill="#ff0000" stroke="#000" stroke-width="0.7"/>
<rect x="406.50" y="195.50" width="8.00" height="8.00" fill="#ff0000" stroke="#000" stroke-width="0.7"/>
<rect x="415.50" y="195.50" width="8.00" height="8.00" fill="#ff0000" stroke="#000" stroke-width="0.7"/>
<rect x="423.50" y="195.50" width="8.00" height="8.00" fill="#ff0000" stroke="#000" stroke-width="0.7"/>
<rect x="432.50" y="195.50" width="8.00" height="8.00" fill="#ff0000" stroke="#000" stroke-width="0.7"/>
<rect x="440.50" y="195.50" width="8.00" height="8.00" fill="#ff0000" stroke="#000" stroke-width="0.7"/>
<rect x="449.50" y="195.50" width="8.00" height="8.00" fill="#ff0000" stroke="#000" stroke-width="0.7"/>
<rect x="458.50" y="195.50" width="8.00" height="8.00" fill="#ff0000" stroke="#000" stroke-width="0.7"/>
<rect x="466.50" y="195.50" width="8.00" height="8.00" fill="#ff0000" stroke="#000" stroke-width="0.7"/>
<rect x="475.50" y="195.50" width="8.00" height="8.00" fill="#ff0000" stroke="#000" stroke-width="0.7"/>
<rect x="484.50" y="195.50" width="8.00" height="8.00" fill="#ff0000" stroke="#000" stroke-width="0.7"/>
<rect x="492.50" y="195.50" width="8.00" height="8.00" fill="#ff0000" stroke="#000" stroke-width="0.7"/>
<rect x="501.50" y="195.50" width="8.00" height="8.00" fill="#ff0000" stroke="#000" stroke-width="0.7"/>
<rect x="509.50" y="195.50" width="8.00" height="8.00" fill="#ff0000" stroke="#000" stroke-width="0.7"/>
<rect x="518.50" y="195.50" width="8.00" height="8.00" fill="#ff0000" stroke="#000" stroke-width="0.7"/>
<rect x="527.50" y="195.50" width="8.00" height="8.00" fill="#ff0000" stroke="#000" stroke-width="0.7"/>
<rect x="535.50" y="195.50" width="8.00" height="8.00" fill="#ff0000" stroke="#000" stroke-width="0.7"/>
<rect x="544.50" y="200.50" width="8.00" height="8.00" fill="#ff0000" stroke="#000" stroke-width="0.7"/>
<rect x="552.50" y="200.50" width="8.00" height="8.00" fill="#ff0000" stroke="#000" stroke-width="0.7"/>
<rect x="561.50" y="200.50" width="8.00" height="8.00" fill="#ff0000" stroke="#000" stroke-width="0.7"/>
<rect x="570.50" y="200.50" width="8.00" height="8.00" fill="#ff0000" stroke="#000" stroke-width="0.7"/>
<rect x="578.50" y="205.50" width="8.00" height="8.00" fill="#ff0000" stroke="#000" stroke-width="0.7"/>
<rect x="587.50" y="205.50" width="8.00" height="8.00" fill="#ff0000" stroke="#000" stroke-width="0.7"/>
<rect x="595.50" y="205.50" width="8.00" height="8.00" fill="#ff0000" stroke="#000" stroke-width="0.7"/>
<rect x="604.50" y="205.50" width="8.00" height="8.00" fill="#ff0000" stroke="#000" stroke-width="0.7"/>
<rect x="613.50" y="205.50" width="8.00" height="8.00" fill="#ff0000" stroke="#000" stroke-width="0.7"/>
<rect x="621.50" y="205.50" width="8.00" height="8.00" fill="#ff0000" stroke="#000" stroke-width="0.7"/>
<rect x="630.50" y="210.50" width="8.00" height="8.00" fill="#ff0000" stroke="#000" stroke-width="0.7"/>
<rect x="639.50" y="210.50" width="8.00" height="8.00" fill="#ff0000" stroke="#000" stroke-width="0.7"/>
<rect x="647.50" y="210.50" width="8.00" height="8.00" fill="#ff0000" stroke="#000" stroke-width="0.7"/>
<rect x="656.50" y="210.50" width="8.00" height="8.00" fill="#ff0000" stroke="#000" stroke-width="0.7"/>
<rect x="664.50" y="210.50" width="8.00" height="8.00" fill="#ff0000" stroke="#000" stroke-width="0.7"/>
<rect x="673.50" y="210.50" width="8.00" height="8.00" fill="#ff0000" stroke="#000" stroke-width="0.7"/>
<path d="M108.61 295.20 L117.22 295.20 L125.83 295.20 L134.44 295.20 L143.06 300.00 L151.67 300.00 L160.28 300.00 L168.89 300.00 L177.50 300.00 L186.11 300.00 L194.72 300.00 L203.33 300.00 L211.94 300.00 L220.56 300.00 L229.17 300.00 L237.78 300.00 L246.39 304.80 L255.00 304.80 L263.61 300.00 L272.22 304.80 L280.83 304.80 L289.44 304.80 L298.06 304.80 L306.67 304.80 L315.28 304.80 L323.89 304.80 L332.50 304.80 L341.11 304.80 L349.72 304.80 L358.33 304.80 L366.94 304.80 L375.56 304.80 L384.17 304.80 L392.78 304.80 L401.39 304.80 L410.00 304.80 L427.22 309.60 L435.83 309.60 L444.44 309.60 L453.06 309.60 L461.67 309.60 L470.28 309.60 L478.89 309.60 L487.50 309.60 L496.11 309.60 L504.72 309.60 L513.33 309.60 L521.94 309.60 L530.56 309.60 L539.17 309.60 L547.78 309.60 L556.39 309.60 L565.00 309.60 L573.61 309.60 L582.22 309.60 L590.83 309.60 L599.44 309.60 L608.06 309.60 L616.67 309.60 L625.28 309.60 L633.89 309.60 L642.50 314.40 L651.11 314.40 L659.72 314.40 L668.33 314.40 L676.94 314.40" fill="none" stroke="#008000" stroke-width="1.389" stroke-dasharray="1.39 4.17" stroke-dashoffset="0.00"/>
<polygon points="109.50,291.33 105.40,299.50 113.60,299.50" fill="#008000" stroke="#000" stroke-width="0.800"/>
<polygon points="117.50,291.33 113.40,299.50 121.60,299.50" fill="#008000" stroke="#000" stroke-width="0.800"/>
<polygon points="126.50,291.33 122.40,299.50 130.60,299.50" fill="#008000" stroke="#000" stroke-width="0.800"/>
<polygon points="134.50,291.33 130.40,299.50 138.60,299.50" fill="#008000" stroke="#000" stroke-width="0.800"/>
<polygon points="143.50,296.33 139.40,304.50 147.60,304.50" fill="#008000" stroke="#000" stroke-width="0.800"/>
<polygon points="152.50,296.33 148.40,304.50 156.60,304.50" fill="#008000" stroke="#000" stroke-width="0.800"/>
<polygon points="160.50,296.33 156.40,304.50 164.60,304.50" fill="#008000" stroke="#000" stroke-width="0.800"/>
<polygon points="169.50,296.33 165.40,304.50 173.60,304.50" fill="#008000" stroke="#000" stroke-width="0.800"/>
<polygon points="178.50,296.33 174.40,304.50 182.60,304.50" fill="#008000" stroke="#000" stroke-width="0.800"/>
<polygon points="186.50,296.33 182.40,304.50 190.60,304.50" fill="#008000" stroke="#000" stroke-width="0.800"/>
<polygon points="195.50,296.33 191.40,304.50 199.60,304.50" fill="#008000" stroke="#000" stroke-width="0.800"/>
<polygon points="203.50,296.33 199.40,304.50 207.60,304.50" fill="#008000" stroke="#000" stroke-width="0.800"/>
<polygon points="212.50,296.33 208.40,304.50 216.60,304.50" fill="#008000" stroke="#000" stroke-width="0.800"/>
<polygon points="221.50,296.33 217.40,304.50 225.60,304.50" fill="#008000" stroke="#000" stroke-width="0.800"/>
<polygon points="229.50,296.33 225.40,304.50 233.60,304.50" fill="#008000" stroke="#000" stroke-width="0.800"/>
<polygon points="238.50,296.33 234.40,304.50 242.60,304.50" fill="#008000" stroke="#000" stroke-width="0.800"/>
<polygon points="246.50,301.33 242.40,309.50 250.60,309.50" fill="#008000" stroke="#000" stroke-width="0.800"/>
<polygon points="255.50,301.33 251.40,309.50 259.60,309.50" fill="#008000" stroke="#000" stroke-width="0.800"/>
<polygon points="264.50,296.33 260.40,304.50 268.60,304.50" fill="#008000" stroke="#000" stroke-width="0.800"/>
<polygon points="272.50,301.33 268.40,309.50 276.60,309.50" fill="#008000" stroke="#000" stroke-width="0.800"/>
<polygon points="281.50,301.33 277.40,309.50 285.60,309.50" fill="#008000" stroke="#000" stroke-width="0.800"/>
<polygon points="289.50,301.33 285.40,309.50 293.60,309.50" fill="#008000" stroke="#000" stroke-width="0.800"/>
<polygon points="298.50,301.33 294.40,309.50 302.60,309.50" fill="#008000" stroke="#000" stroke-width="0.800"/>
<polygon points="307.50,301.33 303.40,309.50 311.60,309.50" fill="#008000" stroke="#000" stroke-width="0.800"/>
<polygon points="315.50,301.33 311.40,309.50 319.60,309.50" fill="#008000" stroke="#000" stroke-width="0.800"/>
<polygon points="324.50,301.33 320.40,309.50 328.60,309.50" fill="#008000" stroke="#000" stroke-width="0.800"/>
<polygon points="333.50,301.33 329.40,309.50 337.60,309.50" fill="#008000" stroke="#000" stroke-width="0.800"/>
<polygon points="341.50,301.33 337.40,309.50 345.60,309.50" fill="#008000" stroke="#000" stroke-width="0.800"/>
<polygon points="350.50,301.33 346.40,309.50 354.60,309.50" fill="#008000" stroke="#000" stroke-width="0.800"/>
<polygon points="358.50,301.33 354.40,309.50 362.60,309.50" fill="#008000" stroke="#000" stroke-width="0.800"/>
<polygon points="367.50,301.33 363.40,309.50 371.60,309.50" fill="#008000" stroke="#000" stroke-width="0.800"/>
<polygon points="376.50,301.33 372.40,309.50 380.60,309.50" fill="#008000" stroke="#000" stroke-width="0.800"/>
<polygon points="384.50,301.33 380.40,309.50 388.60,309.50" fill="#008000" stroke="#000" stroke-width="0.800"/>
<polygon points="393.50,301.33 389.40,309.50 397.60,309.50" fill="#008000" stroke="#000" stroke-width="0.800"/>
<polygon points="401.50,301.33 397.40,309.50 405.60,309.50" fill="#008000" stroke="#000" stroke-width="0.800"/>
<polygon points="410.50,301.33 406.40,309.50 414.60,309.50" fill="#008000" stroke="#000" stroke-width="0.800"/>
<polygon points="427.50,306.33 423.40,314.50 431.60,314.50" fill="#008000" stroke="#000" stroke-width="0.800"/>
<polygon points="436.50,306.33 432.40,314.50 440.60,314.50" fill="#008000" stroke="#000" stroke-width="0.800"/>
<polygon points="444.50,306.33 440.40,314.50 448.60,314.50" fill="#008000" stroke="#000" stroke-width="0.800"/>
<polygon points="453.50,306.33 449.40,314.50 457.60,314.50" fill="#008000" stroke="#000" stroke-width="0.800"/>
<polygon points="462.50,306.33 458.40,314.50 466.60,314.50" fill="#008000" stroke="#000" stroke-width="0.800"/>
<polygon points="470.50,306.33 466.40,314.50 474.60,314.50" fill="#008000" stroke="#000" stroke-width="0.800"/>
<polygon points="479.50,306.33 475.40,314.50 483.60,314.50" fill="#008000" stroke="#000" stroke-width="0.800"/>
<polygon points="488.50,306.33 484.40,314.50 492.60,314.50" fill="#008000" stroke="#000" stroke-width="0.800"/>
<polygon points="496.50,306.33 492.40,314.50 500.60,314.50" fill="#008000" stroke="#000" stroke-width="0.800"/>
<polygon points="505.50,306.33 501.40,314.50 509.60,314.50" fill="#008000" stroke="#000" stroke-width="0.800"/>
<polygon points="513.50,306.33 509.40,314.50 517.60,314.50" fill="#008000" stroke="#000" stroke-width="0.800"/>
<polygon points="522.50,306.33 518.40,314.50 526.60,314.50" fill="#008000" stroke="#000" stroke-width="0.800"/>
<polygon points="531.50,306.33 527.40,314.50 535.60,314.50" fill="#008000" stroke="#000" stroke-width="0.800"/>
<polygon points="539.50,306.33 535.40,314.50 543.60,314.50" fill="#008000" stroke="#000" stroke-width="0.800"/>
<polygon points="548.50,306.33 544.40,314.50 552.60,314.50" fill="#008000" stroke="#000" stroke-width="0.800"/>
<polygon points="556.50,306.33 552.40,314.50 560.60,314.50" fill="#008000" stroke="#000" stroke-width="0.800"/>
<polygon points="565.50,306.33 561.40,314.50 569.60,314.50" fill="#008000" stroke="#000" stroke-width="0.800"/>
<polygon points="574.50,306.33 570.40,314.50 578.60,314.50" fill="#008000" stroke="#000" stroke-width="0.800"/>
<polygon points="582.50,306.33 578.40,314.50 586.60,314.50" fill="#008000" stroke="#000" stroke-width="0.800"/>
<polygon points="591.50,306.33 587.40,314.50 595.60,314.50" fill="#008000" stroke="#000" stroke-width="0.800"/>
<polygon points="599.50,306.33 595.40,314.50 603.60,314.50" fill="#008000" stroke="#000" stroke-width="0.800"/>
<polygon points="608.50,306.33 604.40,314.50 612.60,314.50" fill="#008000" stroke="#000" stroke-width="0.800"/>
<polygon points="617.50,306.33 613.40,314.50 621.60,314.50" fill="#008000" stroke="#000" stroke-width="0.800"/>
<polygon points="625.50,306.33 621.40,314.50 629.60,314.50" fill="#008000" stroke="#000" stroke-width="0.800"/>
<polygon points="634.50,306.33 630.40,314.50 638.60,314.50" fill="#008000" stroke="#000" stroke-width="0.800"/>
<polygon points="643.50,310.33 639.40,318.50 647.60,318.50" fill="#008000" stroke="#000" stroke-width="0.800"/>
<polygon points="651.50,310.33 647.40,318.50 655.60,318.50" fill="#008000" stroke="#000" stroke-width="0.800"/>
<polygon points="660.50,310.33 656.40,318.50 664.60,318.50" fill="#008000" stroke="#000" stroke-width="0.800"/>
<polygon points="668.50,310.33 664.40,318.50 672.60,318.50" fill="#008000" stroke="#000" stroke-width="0.800"/>
<polygon points="677.50,310.33 673.40,318.50 681.60,318.50" fill="#008000" stroke="#000" stroke-width="0.800"/>
<path d="M108.61 357.60 L117.22 357.60 L125.83 357.60 L134.44 357.60 L143.06 357.60 L151.67 357.60 L160.28 357.60 L168.89 357.60 L177.50 357.60 L186.11 362.40 L194.72 362.40 L203.33 362.40 L211.94 362.40 L220.56 362.40 L229.17 362.40 L237.78 362.40 L246.39 362.40 L255.00 362.40 L263.61 362.40 L272.22 362.40 L280.83 362.40 L289.44 362.40 L298.06 362.40 L306.67 362.40 L315.28 362.40 L323.89 362.40 L332.50 362.40 L341.11 362.40 L349.72 362.40 L358.33 362.40 L366.94 362.40 L375.56 362.40 L384.17 367.20 L392.78 367.20 L401.39 367.20 L410.00 367.20 L418.61 367.20 L427.22 367.20 L435.83 367.20 L444.44 362.40 L453.06 362.40 L461.67 362.40 L470.28 362.40 L478.89 367.20 L487.50 367.20 L496.11 367.20 L504.72 367.20 L513.33 367.20 L521.94 367.20 L530.56 367.20 L539.17 367.20 L547.78 367.20 L556.39 367.20 L565.00 367.20 L573.61 367.20 L582.22 367.20 L590.83 367.20 L599.44 367.20 L608.06 367.20 L616.67 367.20 L625.28 367.20 L633.89 367.20 L642.50 367.20 L651.11 367.20 L659.72 367.20 L668.33 367.20 L676.94 367.20 L685.56 367.20" fill="none" stroke="#ff0000" stroke-width="1.389" stroke-dasharray="8.33 8.33" stroke-dashoffset="0.00"/>
<polygon points="109.50,354.33 105.40,362.50 113.60,362.50" fill="#ff0000" stroke="#000" stroke-width="0.800"/>
<polygon points="117.50,354.33 113.40,362.50 121.60,362.50" fill="#ff0000" stroke="#000" stroke-width="0.800"/>
<polygon points="126.50,354.33 122.40,362.50 130.60,362.50" fill="#ff0000" stroke="#000" stroke-width="0.800"/>
<polygon points="134.50,354.33 130.40,362.50 138.60,362.50" fill="#ff0000" stroke="#000" stroke-width="0.800"/>
<polygon points="143.50,354.33 139.40,362.50 147.60,362.50" fill="#ff0000" stroke="#000" stroke-width="0.800"/>
<polygon points="152.50,354.33 148.40,362.50 156.60,362.50" fill="#ff0000" stroke="#000" stroke-width="0.800"/>
<polygon points="160.50,354.33 156.40,362.50 164.60,362.50" fill="#ff0000" stroke="#000" stroke-width="0.800"/>
<polygon points="169.50,354.33 165.40,362.50 173.60,362.50" fill="#ff0000" stroke="#000" stroke-width="0.800"/>
<polygon points="178.50,354.33 174.40,362.50 182.60,362.50" fill="#ff0000" stroke="#000" stroke-width="0.800"/>
<polygon points="186.50,358.33 182.40,366.50 190.60,366.50" fill="#ff0000" stroke="#000" stroke-width="0.800"/>
<polygon points="195.50,358.33 191.40,366.50 199.60,366.50" fill="#ff0000" stroke="#000" stroke-width="0.800"/>
<polygon points="203.50,358.33 199.40,366.50 207.60,366.50" fill="#ff0000" stroke="#000" stroke-width="0.800"/>
<polygon points="212.50,358.33 208.40,366.50 216.60,366.50" fill="#ff0000" stroke="#000" stroke-width="0.800"/>
<polygon points="221.50,358.33 217.40,366.50 225.60,366.50" fill="#ff0000" stroke="#000" stroke-width="0.800"/>
<polygon points="229.50,358.33 225.40,366.50 233.60,366.50" fill="#ff0000" stroke="#000" stroke-width="0.800"/>
<polygon points="238.50,358.33 234.40,366.50 242.60,366.50" fill="#ff0000" stroke="#000" stroke-width="0.800"/>
<polygon points="246.50,358.33 242.40,366.50 250.60,366.50" fill="#ff0000" stroke="#000" stroke-width="0.800"/>
<polygon points="255.50,358.33 251.40,366.50 259.60,366.50" fill="#ff0000" stroke="#000" stroke-width="0.800"/>
<polygon points="264.50,358.33 260.40,366.50 268.60,366.50" fill="#ff0000" stroke="#000" stroke-width="0.800"/>
<polygon points="272.50,358.33 268.40,366.50 276.60,366.50" fill="#ff0000" stroke="#000" stroke-width="0.800"/>
<polygon points="281.50,358.33 277.40,366.50 285.60,366.50" fill="#ff0000" stroke="#000" stroke-width="0.800"/>
<polygon points="289.50,358.33 285.40,366.50 293.60,366.50" fill="#ff0000" stroke="#000" stroke-width="0.800"/>
<polygon points="298.50,358.33 294.40,366.50 302.60,366.50" fill="#ff0000" stroke="#000" stroke-width="0.800"/>
<polygon points="307.50,358.33 303.40,366.50 311.60,366.50" fill="#ff0000" stroke="#000" stroke-width="0.800"/>
<polygon points="315.50,358.33 311.40,366.50 319.60,366.50" fill="#ff0000" stroke="#000" stroke-width="0.800"/>
<polygon points="324.50,358.33 320.40,366.50 328.60,366.50" fill="#ff0000" stroke="#000" stroke-width="0.800"/>
<polygon points="333.50,358.33 329.40,366.50 337.60,366.50" fill="#ff0000" stroke="#000" stroke-width="0.800"/>
<polygon points="341.50,358.33 337.40,366.50 345.60,366.50" fill="#ff0000" stroke="#000" stroke-width="0.800"/>
<polygon points="350.50,358.33 346.40,366.50 354.60,366.50" fill="#ff0000" stroke="#000" stroke-width="0.800"/>
<polygon points="358.50,358.33 354.40,366.50 362.60,366.50" fill="#ff0000" stroke="#000" stroke-width="0.800"/>
<polygon points="367.50,358.33 363.40,366.50 371.60,366.50" fill="#ff0000" stroke="#000" stroke-width="0.800"/>
<polygon points="376.50,358.33 372.40,366.50 380.60,366.50" fill="#ff0000" stroke="#000" stroke-width="0.800"/>
<polygon points="384.50,363.33 380.40,371.50 388.60,371.50" fill="#ff0000" stroke="#000" stroke-width="0.800"/>
<polygon points="393.50,363.33 389.40,371.50 397.60,371.50" fill="#ff0000" stroke="#000" stroke-width="0.800"/>
<polygon points="401.50,363.33 397.40,371.50 405.60,371.50" fill="#ff0000" stroke="#000" stroke-width="0.800"/>
<polygon points="410.50,363.33 406.40,371.50 414.60,371.50" fill="#ff0000" stroke="#000" stroke-width="0.800"/>
<polygon points="419.50,363.33 415.40,371.50 423.60,371.50" fill="#ff0000" stroke="#000" stroke-width="0.800"/>
<polygon points="427.50,363.33 423.40,371.50 431.60,371.50" fill="#ff0000" stroke="#000" stroke-width="0.800"/>
<polygon points="436.50,363.33 432.40,371.50 440.60,371.50" fill="#ff0000" stroke="#000" stroke-width="0.800"/>
<polygon points="444.50,358.33 440.40,366.50 448.60,366.50" fill="#ff0000" stroke="#000" stroke-width="0.800"/>
<polygon points="453.50,358.33 449.40,366.50 457.60,366.50" fill="#ff0000" stroke="#000" stroke-width="0.800"/>
<polygon points="462.50,358.33 458.40,366.50 466.60,366.50" fill="#ff0000" stroke="#000" stroke-width="0.800"/>
<polygon points="470.50,358.33 466.40,366.50 474.60,366.50" fill="#ff0000" stroke="#000" stroke-width="0.800"/>
<polygon points="479.50,363.33 475.40,371.50 483.60,371.50" fill="#ff0000" stroke="#000" stroke-width="0.800"/>
<polygon points="488.50,363.33 484.40,371.50 492.60,371.50" fill="#ff0000" stroke="#000" stroke-width="0.800"/>
<polygon points="496.50,363.33 492.40,371.50 500.60,371.50" fill="#ff0000" stroke="#000" stroke-width="0.800"/>
<polygon points="505.50,363.33 501.40,371.50 509.60,371.50" fill="#ff0000" stroke="#000" stroke-width="0.800"/>
<polygon points="513.50,363.33 509.40,371.50 517.60,371.50" fill="#ff0000" stroke="#000" stroke-width="0.800"/>
<polygon points="522.50,363.33 518.40,371.50 526.60,371.50" fill="#ff0000" stroke="#000" stroke-width="0.800"/>
<polygon points="531.50,363.33 527.40,371.50 535.60,371.50" fill="#ff0000" stroke="#000" stroke-width="0.800"/>
<polygon points="539.50,363.33 535.40,371.50 543.60,371.50" fill="#ff0000" stroke="#000" stroke-width="0.800"/>
<polygon points="548.50,363.33 544.40,371.50 552.60,371.50" fill="#ff0000" stroke="#000" stroke-width="0.800"/>
<polygon points="556.50,363.33 552.40,371.50 560.60,371.50" fill="#ff0000" stroke="#000" stroke-width="0.800"/>
<polygon points="565.50,363.33 561.40,371.50 569.60,371.50" fill="#ff0000" stroke="#000" stroke-width="0.800"/>
<polygon points="574.50,363.33 570.40,371.50 578.60,371.50" fill="#ff0000" stroke="#000" stroke-width="0.800"/>
<polygon points="582.50,363.33 578.40,371.50 586.60,371.50" fill="#ff0000" stroke="#000" stroke-width="0.800"/>
<polygon points="591.50,363.33 587.40,371.50 595.60,371.50" fill="#ff0000" stroke="#000" stroke-width="0.800"/>
<polygon points="599.50,363.33 595.40,371.50 603.60,371.50" fill="#ff0000" stroke="#000" stroke-width="0.800"/>
<polygon points="608.50,363.33 604.40,371.50 612.60,371.50" fill="#ff0000" stroke="#000" stroke-width="0.800"/>
<polygon points="617.50,363.33 613.40,371.50 621.60,371.50" fill="#ff0000" stroke="#000" stroke-width="0.800"/>
<polygon points="625.50,363.33 621.40,371.50 629.60,371.50" fill="#ff0000" stroke="#000" stroke-width="0.800"/>
<polygon points="634.50,363.33 630.40,371.50 638.60,371.50" fill="#ff0000" stroke="#000" stroke-width="0.800"/>
<polygon points="643.50,363.33 639.40,371.50 647.60,371.50" fill="#ff0000" stroke="#000" stroke-width="0.800"/>
<polygon points="651.50,363.33 647.40,371.50 655.60,371.50" fill="#ff0000" stroke="#000" stroke-width="0.800"/>
<polygon points="660.50,363.33 656.40,371.50 664.60,371.50" fill="#ff0000" stroke="#000" stroke-width="0.800"/>
<polygon points="668.50,363.33 664.40,371.50 672.60,371.50" fill="#ff0000" stroke="#000" stroke-width="0.800"/>
<polygon points="677.50,363.33 673.40,371.50 681.60,371.50" fill="#ff0000" stroke="#000" stroke-width="0.800"/>
<polygon points="686.50,363.33 682.40,371.50 690.60,371.50" fill="#ff0000" stroke="#000" stroke-width="0.800"/>
</g>
<path d="M100.50 444.5 H720.50 M100.50 348.5 H720.50 M100.50 252.5 H720.50 M100.50 156.5 H720.50 M307.5 540.90 V60.50 M513.5 540.90 V60.50" fill="none" stroke="#000" stroke-width="0.694" stroke-dasharray="1.39 4.17"/>
<path d="M100.5 540.50 v-5.56 M100.5 60.50 v5.56 M141.5 540.50 v-2.78 M141.5 60.50 v2.78 M183.5 540.50 v-2.78 M183.5 60.50 v2.78 M224.5 540.50 v-2.78 M224.5 60.50 v2.78 M265.5 540.50 v-2.78 M265.5 60.50 v2.78 M307.5 540.50 v-5.56 M307.5 60.50 v5.56 M348.5 540.50 v-2.78 M348.5 60.50 v2.78 M389.5 540.50 v-2.78 M389.5 60.50 v2.78 M431.5 540.50 v-2.78 M431.5 60.50 v2.78 M472.5 540.50 v-2.78 M472.5 60.50 v2.78 M513.5 540.50 v-5.56 M513.5 60.50 v5.56 M555.5 540.50 v-2.78 M555.5 60.50 v2.78 M596.5 540.50 v-2.78 M596.5 60.50 v2.78 M637.5 540.50 v-2.78 M637.5 60.50 v2.78 M679.5 540.50 v-2.78 M679.5 60.50 v2.78 M720.5 540.50 v-5.56 M720.5 60.50 v5.56 M720.50 540.5 h-5.56 M720.50 516.5 h-2.78 M720.50 492.5 h-2.78 M720.50 468.5 h-2.78 M720.50 444.5 h-5.56 M720.50 420.5 h-2.78 M720.50 396.5 h-2.78 M720.50 372.5 h-2.78 M720.50 348.5 h-5.56 M720.50 324.5 h-2.78 M720.50 300.5 h-2.78 M720.50 276.5 h-2.78 M720.50 252.5 h-5.56 M720.50 228.5 h-2.78 M720.50 204.5 h-2.78 M720.50 180.5 h-2.78 M720.50 156.5 h-5.56 M720.50 132.5 h-2.78 M720.50 108.5 h-2.78 M720.50 84.5 h-2.78 M720.50 60.5 h-5.56" fill="none" stroke="#000" stroke-width="0.694"/>
<rect x="100.5" y="60.5" width="620" height="480" fill="none" stroke="#000" stroke-width="1.200"/>
<rect x="110.5" y="70.5" width="196" height="188" fill="#fff" stroke="#000" stroke-width="1.200"/>
<path d="M124.50 85.50 H152.50" fill="none" stroke="#ff0000" stroke-width="1.389"/>
<circle cx="124.5" cy="85.5" r="4.17" fill="#ff0000" stroke="#000" stroke-width="0.800"/>
<circle cx="152.5" cy="85.5" r="4.17" fill="#ff0000" stroke="#000" stroke-width="0.800"/>
<text transform="translate(174.00 91.70) scale(0.9630 1)" font-size="10.00px" text-anchor="start">MEHAIGNE - HUCCORGNE</text>
<path d="M124.50 111.50 H152.50" fill="none" stroke="#ff0000" stroke-width="1.389" stroke-dasharray="8.33 8.33"/>
<polygon points="124.50,107.33 125.44,110.21 128.46,110.21 126.01,111.99 126.95,114.87 124.50,113.09 122.05,114.87 122.99,111.99 120.54,110.21 123.56,110.21" fill="#ff0000" stroke="#000" stroke-width="0.800"/>
<polygon points="152.50,107.33 153.44,110.21 156.46,110.21 154.01,111.99 154.95,114.87 152.50,113.09 150.05,114.87 150.99,111.99 148.54,110.21 151.56,110.21" fill="#ff0000" stroke="#000" stroke-width="0.800"/>
<text transform="translate(174.00 117.75) scale(0.9630 1)" font-size="10.00px" text-anchor="start">MEHAIGNE - MOHA</text>
<path d="M124.50 137.50 H152.50" fill="none" stroke="#ff0000" stroke-width="1.389" stroke-dasharray="8.33 8.33"/>
<polygon points="124.50,133.33 128.46,136.21 126.95,140.50 122.05,140.50 120.54,136.21" fill="#ff0000" stroke="#000" stroke-width="0.800"/>
<polygon points="152.50,133.33 156.46,136.21 154.95,140.50 150.05,140.50 148.54,136.21" fill="#ff0000" stroke="#000" stroke-width="0.800"/>
<text transform="translate(174.00 143.80) scale(0.9710 1)" font-size="10.00px" text-anchor="start">Mehaigne - Wanze</text>
<path d="M124.50 163.50 H152.50" fill="none" stroke="#0000ff" stroke-width="1.389" stroke-dasharray="1.39 4.17"/>
<polygon points="124.50,159.33 120.40,167.50 128.60,167.50" fill="#0000ff" stroke="#000" stroke-width="0.800"/>
<polygon points="152.50,159.33 148.40,167.50 156.60,167.50" fill="#0000ff" stroke="#000" stroke-width="0.800"/>
<text transform="translate(174.00 169.85) scale(0.9710 1)" font-size="10.00px" text-anchor="start">Burdinale - Marneffe</text>
<path d="M124.50 189.50 H152.50" fill="none" stroke="#ff0000" stroke-width="1.389" stroke-dasharray="1.39 4.17"/>
<rect x="120.50" y="185.50" width="8.00" height="8.00" fill="#ff0000" stroke="#000" stroke-width="0.7"/>
<rect x="148.50" y="185.50" width="8.00" height="8.00" fill="#ff0000" stroke="#000" stroke-width="0.7"/>
<text transform="translate(174.00 195.90) scale(0.9710 1)" font-size="10.00px" text-anchor="start">Mehaigne - Ambresin</text>
<path d="M124.50 215.50 H152.50" fill="none" stroke="#008000" stroke-width="1.389" stroke-dasharray="1.39 4.17"/>
<polygon points="124.50,211.33 120.40,219.50 128.60,219.50" fill="#008000" stroke="#000" stroke-width="0.800"/>
<polygon points="152.50,211.33 148.40,219.50 156.60,219.50" fill="#008000" stroke="#000" stroke-width="0.800"/>
<text transform="translate(174.00 221.95) scale(0.9710 1)" font-size="10.00px" text-anchor="start">Soile - Hemptinne</text>
<path d="M124.50 241.50 H152.50" fill="none" stroke="#ff0000" stroke-width="1.389" stroke-dasharray="8.33 8.33"/>
<polygon points="124.50,237.33 120.40,245.50 128.60,245.50" fill="#ff0000" stroke="#000" stroke-width="0.800"/>
<polygon points="152.50,237.33 148.40,245.50 156.60,245.50" fill="#ff0000" stroke="#000" stroke-width="0.800"/>
<text transform="translate(174.00 248.00) scale(0.9710 1)" font-size="10.00px" text-anchor="start">Mehaigne - Upigny</text>
<text transform="translate(409.20 53.20) scale(1.0040 1)" font-size="20.00px" text-anchor="middle">Mehaigne</text>
<text transform="translate(725.20 545.10) scale(0.8900 1)" font-size="18.06px" text-anchor="start">0</text>
<text transform="translate(725.20 449.10) scale(0.8900 1)" font-size="18.06px" text-anchor="start">20</text>
<text transform="translate(725.20 353.10) scale(0.8900 1)" font-size="18.06px" text-anchor="start">40</text>
<text transform="translate(725.20 257.10) scale(0.8900 1)" font-size="18.06px" text-anchor="start">60</text>
<text transform="translate(725.20 161.10) scale(0.8900 1)" font-size="18.06px" text-anchor="start">80</text>
<text transform="translate(725.20 65.10) scale(0.8900 1)" font-size="18.06px" text-anchor="start">100</text>
<text transform="translate(100.23 558.00) scale(0.9200 1)" font-size="16.67px" text-anchor="middle">03-05</text>
<text transform="translate(306.57 558.00) scale(0.9200 1)" font-size="16.67px" text-anchor="middle">03-06</text>
<text transform="translate(513.65 558.00) scale(0.9200 1)" font-size="16.67px" text-anchor="middle">03-07</text>
<text transform="translate(719.94 558.00) scale(0.9200 1)" font-size="16.67px" text-anchor="middle">03-08</text>
<text transform="translate(141.23 554.00) scale(0.9250 1)" font-size="10.00px" text-anchor="middle">04h</text>
<text transform="translate(182.43 554.00) scale(0.9250 1)" font-size="10.00px" text-anchor="middle">09h</text>
<text transform="translate(223.54 554.00) scale(0.9250 1)" font-size="10.00px" text-anchor="middle">14h</text>
<text transform="translate(264.62 554.00) scale(0.9250 1)" font-size="10.00px" text-anchor="middle">19h</text>
<text transform="translate(347.91 554.00) scale(0.9250 1)" font-size="10.00px" text-anchor="middle">04h</text>
<text transform="translate(389.23 554.00) scale(0.9250 1)" font-size="10.00px" text-anchor="middle">09h</text>
<text transform="translate(430.20 554.00) scale(0.9250 1)" font-size="10.00px" text-anchor="middle">14h</text>
<text transform="translate(471.49 554.00) scale(0.9250 1)" font-size="10.00px" text-anchor="middle">19h</text>
<text transform="translate(554.43 554.00) scale(0.9250 1)" font-size="10.00px" text-anchor="middle">04h</text>
<text transform="translate(595.69 554.00) scale(0.9250 1)" font-size="10.00px" text-anchor="middle">09h</text>
<text transform="translate(636.53 554.00) scale(0.9250 1)" font-size="10.00px" text-anchor="middle">14h</text>
<text transform="translate(678.16 554.00) scale(0.9250 1)" font-size="10.00px" text-anchor="middle">19h</text>
<text transform="translate(88.3 299.9) rotate(-90) scale(0.966 1)" font-size="17.2px" text-anchor="middle">Hauteur cm</text>
<text transform="translate(100.00 569.60) scale(0.9630 1)" font-size="10.00px" text-anchor="start">dernière lecture : 2015-03-07T20:10:33</text>
<text transform="translate(100.00 578.60) scale(0.9630 1)" font-size="10.00px" text-anchor="start">dernière donnée  2015-03-07T20:00:00</text>
<text transform="translate(560.40 570.00) scale(0.9700 1)" font-size="10.00px" text-anchor="start">© DroitDeRegard.be</text>
<g id="cc-badge">
<rect x="666" y="561" width="67" height="23" fill="#000"/>
<rect x="667" y="562" width="65" height="15.3" fill="#abb1aa"/>
<rect x="666.5" y="561.5" width="66" height="22" fill="none" stroke="#2b2b2b" stroke-width="1"/>
<clipPath id="bclip"><rect x="666.5" y="561.5" width="66" height="22"/></clipPath>
<g clip-path="url(#bclip)">
<circle cx="677.75" cy="571.6" r="9.9" fill="#abb1aa"/>
<circle cx="677.75" cy="571.6" r="8.6" fill="#000"/>
<circle cx="677.75" cy="571.6" r="7.1" fill="#fff"/>
</g>
<text transform="translate(677.6 574.1) scale(0.9 1)" font-family="'DejaVu Sans','Liberation Sans',sans-serif" font-weight="bold" font-size="9.6px" text-anchor="middle" fill="#000">cc</text>
<circle cx="695.00" cy="569.05" r="5.6" fill="#fff" stroke="#000" stroke-width="1.25"/>
<circle cx="709.40" cy="569.05" r="5.6" fill="#fff" stroke="#000" stroke-width="1.25"/>
<circle cx="724.20" cy="569.05" r="5.6" fill="#fff" stroke="#000" stroke-width="1.25"/>
<circle cx="695" cy="565.8" r="1.05" fill="#000"/>
<path d="M693.2 567.1h3.6v3.7h-0.8v2.4h-2v-2.4h-0.8z" fill="#000"/>
<path d="M704.6 567.1 L714.0 570.6" stroke="#000" stroke-width="0.9" fill="none"/>
<path d="M710.9 566.9 C710.2 566.2 708.3 566.2 708.0 567.3 C707.8 568.5 710.9 569.4 710.7 570.8 C710.4 572.0 708.4 571.9 707.7 571.1 M709.35 565.3 V566.4 M709.35 571.7 V572.8" stroke="#000" stroke-width="1" fill="none"/>
<path d="M721.9 568.6 A2.45 2.45 0 1 1 722.6 571.0" stroke="#000" stroke-width="1.3" fill="none"/>
<path d="M720.6 568.2 h2.8 l-1.4 1.7z" fill="#000"/>
<text x="694.30" y="582.5" font-family="'Liberation Sans','DejaVu Sans',sans-serif" font-weight="bold" font-size="5px" text-anchor="middle" fill="#fff">BY</text>
<text x="709.40" y="582.5" font-family="'Liberation Sans','DejaVu Sans',sans-serif" font-weight="bold" font-size="5px" text-anchor="middle" fill="#fff">NC</text>
<text x="723.30" y="582.5" font-family="'Liberation Sans','DejaVu Sans',sans-serif" font-weight="bold" font-size="5px" text-anchor="middle" fill="#fff">SA</text>
</g>
</svg>
</body></html>
